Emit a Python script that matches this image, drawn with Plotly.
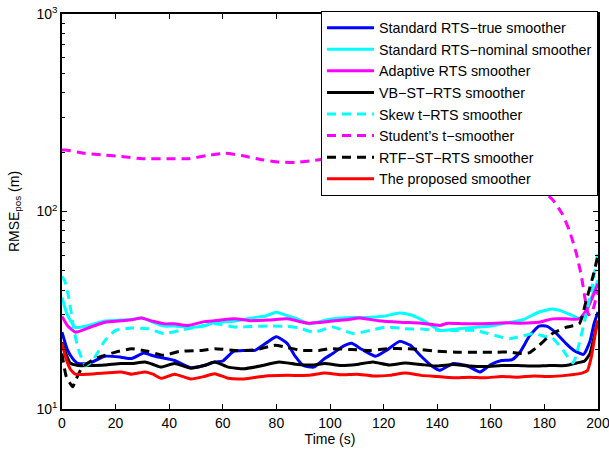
import plotly.graph_objects as go

# ---- data ----
t_true = [0, 2, 4, 6, 10, 16, 22, 26, 30.5, 34, 37, 42, 48, 53, 57, 60, 64, 68, 72, 76, 80, 84, 87, 90, 94, 98, 101, 105, 108, 112, 117, 121, 126, 130, 134, 138, 141, 146, 151, 156, 160, 164, 168, 171, 174.5, 178, 181, 184, 188, 191, 194.6, 197, 198.5, 200]
v_true = [24.5, 20, 18, 17, 17, 18.5, 18.3, 18.0, 19.2, 18.6, 18.2, 17.6, 16.2, 16.6, 17.3, 17.5, 19.6, 19.8, 19.8, 21.5, 23.2, 21.5, 18.5, 16.6, 16.3, 18.0, 19.1, 20.8, 21.5, 20, 18.5, 19.8, 22.0, 21, 18.5, 16.5, 15.7, 17, 16.6, 15.4, 16.8, 17.6, 17.8, 19.5, 23.5, 26.3, 26.2, 24.5, 21.5, 19.8, 18.9, 22, 27, 31]

t_nom = [0, 2, 5, 10, 16, 22, 26, 30, 34, 38, 42, 47, 53, 57, 64, 72, 76, 80, 84, 88, 92, 100, 108, 113, 120, 126, 130, 136, 141, 148, 154, 160, 167, 172, 178, 183, 186, 189, 193.8, 196, 198, 200]
v_nom = [36.7, 30, 25.9, 26.5, 27.9, 28.2, 28.4, 28.9, 27.5, 26.3, 26.3, 25.9, 26.3, 27.5, 27.8, 29.1, 29.6, 30.9, 29.7, 28.5, 27.0, 28.5, 29.1, 29.1, 29.5, 30.6, 30.0, 27.5, 25.0, 25.5, 25.9, 26.3, 27.5, 28.3, 31.0, 32.1, 31.5, 30.3, 28.6, 32, 38, 45]

t_adapt = [0, 2, 5, 10, 16, 22, 26, 29.6, 34, 38, 42, 47, 53, 57, 64.5, 70, 77, 84, 92, 100, 106, 111, 118, 126, 134, 141, 144, 150, 159, 166, 171, 178, 183, 188, 193, 195.6, 198, 200]
v_adapt = [29.4, 26.5, 24.5, 25.8, 27.5, 28.0, 28.3, 28.9, 27.8, 27.0, 27.0, 26.5, 27.7, 28.0, 28.6, 28.0, 28.2, 28.6, 27.2, 27.8, 28.3, 28.9, 28.0, 27.5, 27.2, 26.5, 27.2, 27.0, 27.1, 27.3, 27.2, 27.5, 28.6, 28.6, 28.6, 31.6, 37, 43]

t_vb = [0, 1.5, 3, 6, 10, 16, 22, 26, 31, 34, 37, 42, 48, 53, 57, 62, 68, 74, 81, 88, 94, 98, 104, 110, 116, 122, 128, 134, 140, 146, 152, 158, 164, 170, 176, 182, 188, 192, 195, 197, 199.4, 200]
v_vb = [21.8, 19, 17.1, 16.6, 16.6, 16.7, 17.0, 17.0, 17.3, 16.8, 16.3, 17.0, 16.1, 16.6, 17.3, 16.3, 16.0, 16.5, 17.3, 16.8, 16.7, 17.0, 16.6, 16.8, 17.3, 16.7, 17.1, 16.8, 16.5, 16.8, 16.5, 16.4, 16.6, 16.6, 16.5, 16.6, 16.6, 17.1, 17.5, 19.1, 26, 28]

t_skew = [0, 1, 2.5, 4.3, 6, 8.7, 11, 13.5, 16, 20, 26, 32, 38, 44, 52, 57, 64.5, 72, 78, 84, 88, 94, 101, 105, 109, 115, 121, 128, 134, 141, 148, 154, 159, 163, 167, 171, 176, 180, 183, 187, 190.7, 193, 195.6, 198, 200]
v_skew = [47, 44.6, 36.8, 25.9, 20.3, 16.6, 17.3, 19.5, 22.2, 25, 25.7, 25.5, 24.1, 25.0, 26.3, 27, 26.0, 26.2, 26.3, 26.2, 25.8, 24.5, 26.0, 25.0, 24.1, 25.0, 26.0, 25.5, 25.4, 25.0, 25.0, 25.0, 24.1, 23.3, 22.7, 23.3, 24.1, 23.3, 22.9, 19.8, 17.1, 21.5, 30.3, 43, 63]

t_stud = [0, 1.2, 8.6, 16, 22, 30, 41, 47, 54, 61, 67, 74.5, 81, 87, 96, 105, 115, 125, 135, 145, 155, 163, 170, 178, 183, 186.7, 189.4, 192, 193.9, 195.2, 196.5, 197.8, 200]
v_stud = [205, 205, 197, 193, 190, 185, 185, 185, 192, 197, 192, 183, 178, 177, 183, 190, 188, 185, 175, 165, 150, 139, 135, 131, 115, 97, 79.5, 60.8, 46.3, 36, 30, 31, 40]

t_rtf = [0, 1.6, 4, 5, 7.6, 12.5, 20, 26, 32, 38, 44, 52, 57, 64.5, 72, 79.5, 84, 89, 96, 100, 108, 115, 122, 128, 134, 140, 147, 155, 162, 167, 171, 174.5, 178, 183, 188, 193, 195.6, 198, 200]
v_rtf = [19.1, 14.6, 12.95, 13.9, 16.3, 18, 19.4, 20.2, 19.6, 18.7, 19.6, 19.8, 20.2, 19.8, 19.9, 21, 20.5, 19.8, 19.8, 20.2, 20.0, 19.8, 20.2, 20.2, 20.0, 19.6, 19.4, 19.4, 19.4, 19.4, 19.1, 19.3, 21, 24.1, 25.9, 27, 35.4, 46.3, 60]

t_prop = [0, 1.5, 3, 5, 10, 16, 22, 26, 31, 34, 37, 42, 48, 53, 57, 62, 68, 76, 84, 92, 98, 104, 110, 116, 122, 128, 134, 140, 146, 152, 158, 164, 170, 176, 182, 188, 194, 196, 197.5, 199.4, 200]
v_prop = [21.5, 18, 16, 15, 15, 15.2, 15.4, 15.0, 15.4, 15.0, 14.3, 15.0, 14.2, 14.6, 15.1, 14.3, 14.2, 14.7, 14.8, 14.8, 15.2, 14.9, 15.0, 14.7, 14.8, 15.2, 14.8, 14.6, 14.4, 14.5, 14.4, 14.6, 14.5, 14.7, 14.6, 14.8, 15.2, 15.6, 18.3, 26, 28]

x_ticks = [0, 20, 40, 60, 80, 100, 120, 140, 160, 180, 200]
y_ticks = [10, 100, 1000]
y_tick_text = ["10<sup>1</sup>", "10<sup>2</sup>", "10<sup>3</sup>"]
y_minor = [20, 30, 40, 50, 60, 70, 80, 90, 200, 300, 400, 500, 600, 700, 800, 900]

series = [
    ("Standard RTS\u2212true smoother", t_true, v_true, "#0000ff", "solid"),
    ("Standard RTS\u2212nominal smoother", t_nom, v_nom, "#00ffff", "solid"),
    ("Adaptive RTS smoother", t_adapt, v_adapt, "#ff00ff", "solid"),
    ("VB\u2212ST\u2212RTS smoother", t_vb, v_vb, "#000000", "solid"),
    ("Skew t\u2212RTS smoother", t_skew, v_skew, "#00ffff", "9px,6px"),
    ("Student\u2019s t\u2212smoother", t_stud, v_stud, "#ff00ff", "9px,6px"),
    ("RTF\u2212ST\u2212RTS smoother", t_rtf, v_rtf, "#000000", "9px,6px"),
    ("The proposed smoother", t_prop, v_prop, "#ff0000", "solid"),
]

FAM = "Liberation Sans, Arial, Helvetica, sans-serif"

fig = go.Figure()
for name, tx, vy, col, dash in series:
    fig.add_trace(go.Scatter(
        x=tx, y=vy, mode="lines", name=name,
        line=dict(color=col, width=3, dash=dash, shape="spline", smoothing=0.5),
    ))

fig.update_layout(
    width=609, height=454,
    margin=dict(l=62, r=11, t=12, b=45),
    paper_bgcolor="white", plot_bgcolor="white",
    font=dict(family=FAM, size=14, color="#000000"),
    showlegend=True,
    legend=dict(
        x=1, y=1.008, xanchor="right", yanchor="top",
        bgcolor="white", bordercolor="black", borderwidth=1,
        font=dict(family=FAM, size=14.3, color="#000000"),
        itemwidth=47,
    ),
)

fig.update_xaxes(
    range=[0, 200], tickvals=x_ticks, automargin=False, ticklabeloverflow="allow",
    showline=True, linecolor="black", linewidth=1.5, mirror="ticks",
    ticks="inside", ticklen=5, tickcolor="black",
    showgrid=False, zeroline=False,
    tickfont=dict(family=FAM, size=14),
    title=dict(text="Time (s)", standoff=3, font=dict(family=FAM, size=14)),
)
fig.update_yaxes(
    type="log", range=[1, 3], automargin=False, ticklabeloverflow="allow",
    tickvals=y_ticks, ticktext=y_tick_text,
    showline=True, linecolor="black", linewidth=1.5, mirror="ticks",
    ticks="inside", ticklen=5, tickcolor="black",
    minor=dict(tickvals=y_minor, ticks="inside", ticklen=3, tickcolor="black", showgrid=False),
    showgrid=False, zeroline=False,
    tickfont=dict(family=FAM, size=14),
    title=dict(text="RMSE<sub>pos</sub> (m)", standoff=14, font=dict(family=FAM, size=14)),
)

fig.write_html(
    "out.html",
    config={"displayModeBar": False},
    post_script="document.body.style.margin='0';document.body.style.padding='0';",
)
